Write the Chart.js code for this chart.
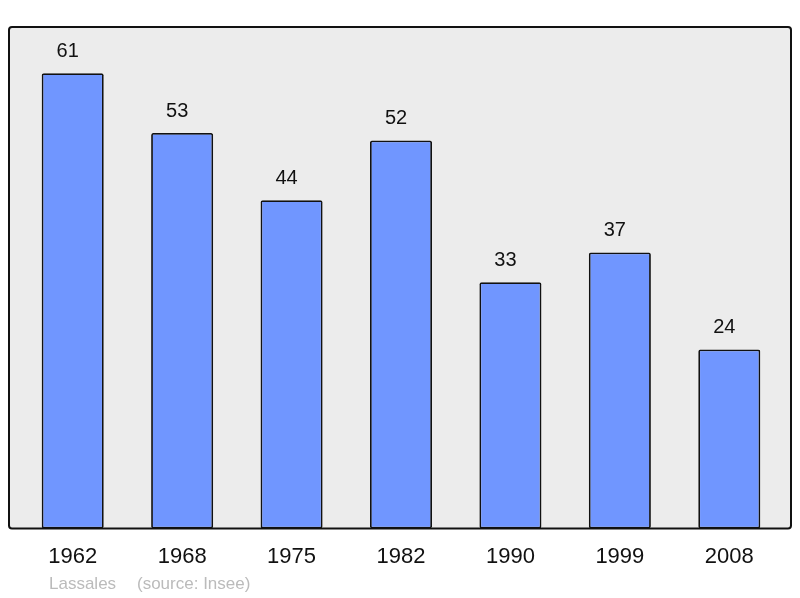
<!DOCTYPE html>
<html>
<head>
<meta charset="utf-8">
<script src="https://cdn.jsdelivr.net/npm/chart.js@4/dist/chart.umd.min.js"></script>
<style>
  html, body { margin: 0; padding: 0; background: #fff; }
  #wrap { width: 800px; height: 598px; }
</style>
</head>
<body>
<div id="wrap"><canvas id="c" width="800" height="598"></canvas></div>
<script>
// population by census year
var years = ['1962', '1968', '1975', '1982', '1990', '1999', '2008'];
var population = [61, 53, 44, 52, 33, 37, 24];
var townName = 'Lassales';
var sourceText = '(source: Insee)';

// frame, value labels and footer
var framePlugin = {
  id: 'frame',
  beforeDraw: function(chart) {
    var ctx = chart.ctx, a = chart.chartArea;
    ctx.save();
    ctx.beginPath();
    ctx.roundRect(a.left - 9, a.top, (a.right - a.left) + 16, a.bottom - a.top, 3);
    ctx.fillStyle = '#ececec';
    ctx.fill();
    ctx.restore();
  },
  afterDatasetsDraw: function(chart) {
    var ctx = chart.ctx, a = chart.chartArea;
    ctx.save();
    ctx.beginPath();
    ctx.roundRect(a.left - 9, a.top, (a.right - a.left) + 16, a.bottom - a.top, 3);
    ctx.lineWidth = 2;
    ctx.strokeStyle = '#111';
    ctx.stroke();

    ctx.fillStyle = '#111';
    ctx.font = '20px "Liberation Sans", Arial, sans-serif';
    ctx.textAlign = 'center';
    ctx.textBaseline = 'middle';
    chart.getDatasetMeta(0).data.forEach(function(bar, i) {
      // labels sit a little left of the bar centre in the original
      ctx.fillText(String(population[i]), bar.x - 5, bar.y - 22);
    });

    ctx.fillStyle = '#bbbbbb';
    ctx.font = '17px "Liberation Sans", Arial, sans-serif';
    ctx.textAlign = 'left';
    ctx.fillText(townName, 49, 584);
    ctx.fillText(sourceText, 137, 584);
    ctx.restore();
  }
};

new Chart(document.getElementById('c'), {
  type: 'bar',
  data: {
    labels: years,
    datasets: [{
      data: population,
      backgroundColor: '#7096ff',
      borderColor: '#111',
      borderWidth: 1.8,
      borderSkipped: false,
      borderRadius: 2,
      barPercentage: 0.567,
      categoryPercentage: 1
    }]
  },
  options: {
    responsive: false,
    animation: false,
    devicePixelRatio: 1,
    layout: { padding: { left: 18, right: 16, top: 27, bottom: 13 } },
    plugins: { legend: { display: false }, tooltip: { enabled: false } },
    scales: {
      x: {
        grid: { display: false, drawTicks: false },
        border: { display: false },
        ticks: {
          padding: 15,
          color: '#111',
          font: { size: 22, family: '"Liberation Sans", Arial, sans-serif' }
        }
      },
      y: {
        display: false,
        min: 0,
        max: 67.2
      }
    }
  },
  plugins: [framePlugin]
});
</script>
</body>
</html>
